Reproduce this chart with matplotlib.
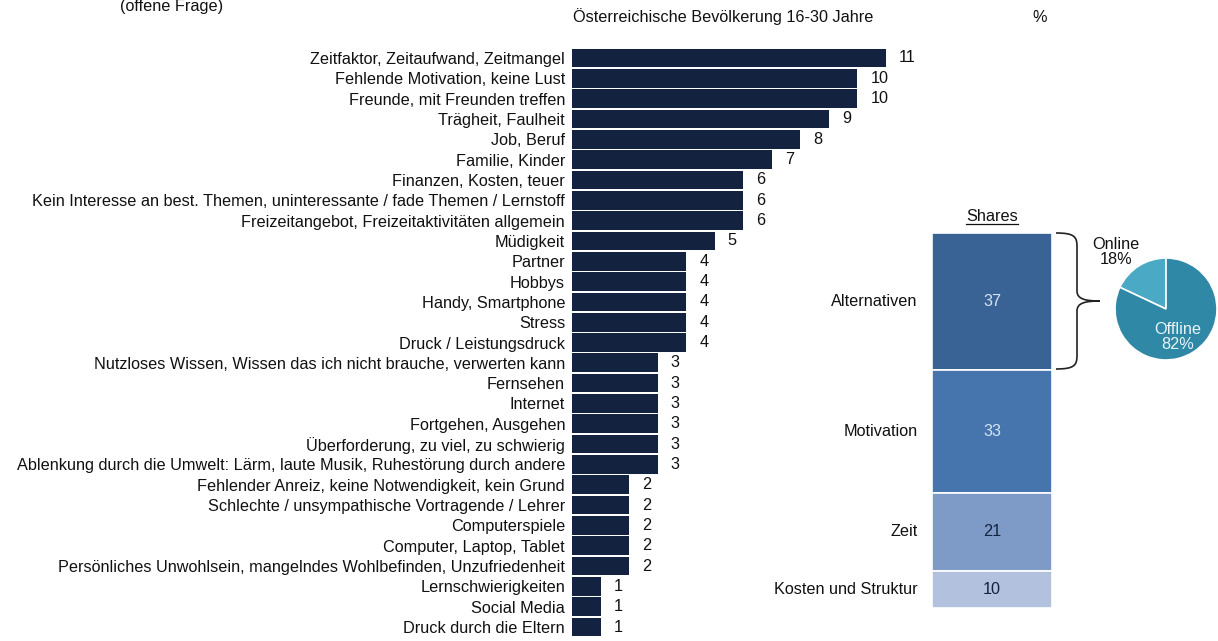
import matplotlib
matplotlib.use("Agg")
import matplotlib.pyplot as plt
from matplotlib.path import Path
from matplotlib.patches import PathPatch

plt.rcParams['font.family'] = ['Liberation Sans', 'DejaVu Sans']

categories = [
    "Zeitfaktor, Zeitaufwand, Zeitmangel",
    "Fehlende Motivation, keine Lust",
    "Freunde, mit Freunden treffen",
    "Trägheit, Faulheit",
    "Job, Beruf",
    "Familie, Kinder",
    "Finanzen, Kosten, teuer",
    "Kein Interesse an best. Themen, uninteressante / fade Themen / Lernstoff",
    "Freizeitangebot, Freizeitaktivitäten allgemein",
    "Müdigkeit",
    "Partner",
    "Hobbys",
    "Handy, Smartphone",
    "Stress",
    "Druck / Leistungsdruck",
    "Nutzloses Wissen, Wissen das ich nicht brauche, verwerten kann",
    "Fernsehen",
    "Internet",
    "Fortgehen, Ausgehen",
    "Überforderung, zu viel, zu schwierig",
    "Ablenkung durch die Umwelt: Lärm, laute Musik, Ruhestörung durch andere",
    "Fehlender Anreiz, keine Notwendigkeit, kein Grund",
    "Schlechte / unsympathische Vortragende / Lehrer",
    "Computerspiele",
    "Computer, Laptop, Tablet",
    "Persönliches Unwohlsein, mangelndes Wohlbefinden, Unzufriedenheit",
    "Lernschwierigkeiten",
    "Social Media",
    "Druck durch die Eltern",
]
values = [11, 10, 10, 9, 8, 7, 6, 6, 6, 5, 4, 4, 4, 4, 4, 3, 3, 3, 3, 3, 3, 2, 2, 2, 2, 2, 1, 1, 1]

share_labels = ["Alternativen", "Motivation", "Zeit", "Kosten und Struktur"]
share_values = [37, 33, 21, 10]
share_colors = ["#3a6395", "#4674ad", "#7e9bc8", "#b2c2de"]
share_text_colors = ["#d6e2f2", "#d6e2f2", "#13233f", "#13233f"]

pie_labels = ["Online", "Offline"]
pie_values = [18, 82]
pie_colors = ["#4aaac6", "#2f89a6"]

W, H = 1218, 641
fig = plt.figure(figsize=(W / 100, H / 100), dpi=100)
fig.patch.set_facecolor("white")

def fx(px):
    return px / W

def fy(py):
    return 1 - py / H

FS = 11.7
bar_color = "#13233f"
txt = "#111111"

# Main horizontal bar chart
n = len(categories)
row = (627 - 58) / (n - 1)
top_px = 58 - row / 2
bot_px = 627 + row / 2
ax = fig.add_axes([fx(572), fy(bot_px), fx(886) - fx(572), (bot_px - top_px) / H])
y = list(range(n))
ax.barh(y, values, height=0.92, color=bar_color, edgecolor="none")
ax.set_xlim(0, 11)
ax.set_ylim(n - 0.5, -0.5)
ax.set_yticks(y)
ax.set_yticklabels(categories, fontsize=FS, color=txt)
ax.tick_params(axis="y", length=0, pad=5)
ax.set_xticks([])
for s in ax.spines.values():
    s.set_visible(False)
ax.patch.set_alpha(0)
for yi, v in zip(y, values):
    ax.annotate(str(v), (v, yi), xytext=(13, 0), textcoords="offset pixels",
                va="center", ha="left", fontsize=FS, color=txt, annotation_clip=False)

# Header texts
fig.text(fx(120), fy(7), "(offene Frage)", fontsize=FS, ha="left", va="center", color=txt)
fig.text(fx(573), fy(17), "Österreichische Bevölkerung 16-30 Jahre", fontsize=FS, ha="left", va="center", color=txt)
fig.text(fx(1032), fy(17), "%", fontsize=FS, ha="left", va="center", color=txt)

# Stacked shares bar
total = sum(share_values)
ax2 = fig.add_axes([fx(932), fy(608), fx(1052) - fx(932), (608 - 233) / H])
bottom = 0
for lab, v, c, tc in zip(share_labels, share_values, share_colors, share_text_colors):
    ax2.bar(0.5, v, width=1.0, bottom=bottom, color=c, edgecolor="white", linewidth=1.2)
    ax2.text(0.5, bottom + v / 2, str(v), ha="center", va="center", fontsize=FS, color=tc)
    ax2.text(-0.12, bottom + v / 2, lab, ha="right", va="center", fontsize=FS, color=txt)
    bottom += v
ax2.set_xlim(0, 1)
ax2.set_ylim(total, 0)
ax2.axis("off")
fig.text(fx(992), fy(216), "Shares", fontsize=FS, ha="center", va="center", color=txt)
fig.add_artist(plt.Line2D([fx(966), fx(1018)], [fy(224), fy(224)], color=txt, linewidth=0.9))

# Brace
x0, x1, x2 = 1056, 1077, 1100
ya, ym, yb = 233, 301, 369
verts = [
    (x0, ya), (x1 - 2, ya), (x1, ya + 4), (x1, ya + 14),
    (x1, ym - 10),
    (x1, ym - 2), (x1 + 8, ym), (x2, ym),
    (x1 + 8, ym), (x1, ym + 2), (x1, ym + 10),
    (x1, yb - 14),
    (x1, yb - 4), (x1 - 2, yb), (x0, yb),
]
codes = [Path.MOVETO, Path.CURVE4, Path.CURVE4, Path.CURVE4,
         Path.LINETO,
         Path.CURVE4, Path.CURVE4, Path.CURVE4,
         Path.CURVE4, Path.CURVE4, Path.CURVE4,
         Path.LINETO,
         Path.CURVE4, Path.CURVE4, Path.CURVE4]
fverts = [(fx(a), fy(b)) for a, b in verts]
brace = PathPatch(Path(fverts, codes), transform=fig.transFigure, fill=False,
                  edgecolor="#222222", linewidth=1.2)
fig.add_artist(brace)

# Pie
r = 51
cx, cy = 1166, 309
ax3 = fig.add_axes([fx(cx - r), fy(cy + r), 2 * r / W, 2 * r / H])
ax3.pie(pie_values, colors=pie_colors, startangle=90, counterclock=True,
        wedgeprops=dict(edgecolor="white", linewidth=1.2), radius=1.0)
ax3.set_xlim(-1.0, 1.0)
ax3.set_ylim(-1.0, 1.0)
ax3.axis("off")
fig.text(fx(1116), fy(252), f"{pie_labels[0]}\n{pie_values[0]}%", fontsize=FS, ha="center", va="center",
         color=txt, linespacing=1.05)
fig.text(fx(1178), fy(337), f"{pie_labels[1]}\n{pie_values[1]}%", fontsize=FS, ha="center", va="center",
         color="#e8f4f8", linespacing=1.05)

fig.savefig("out.png", dpi=100, facecolor="white")
